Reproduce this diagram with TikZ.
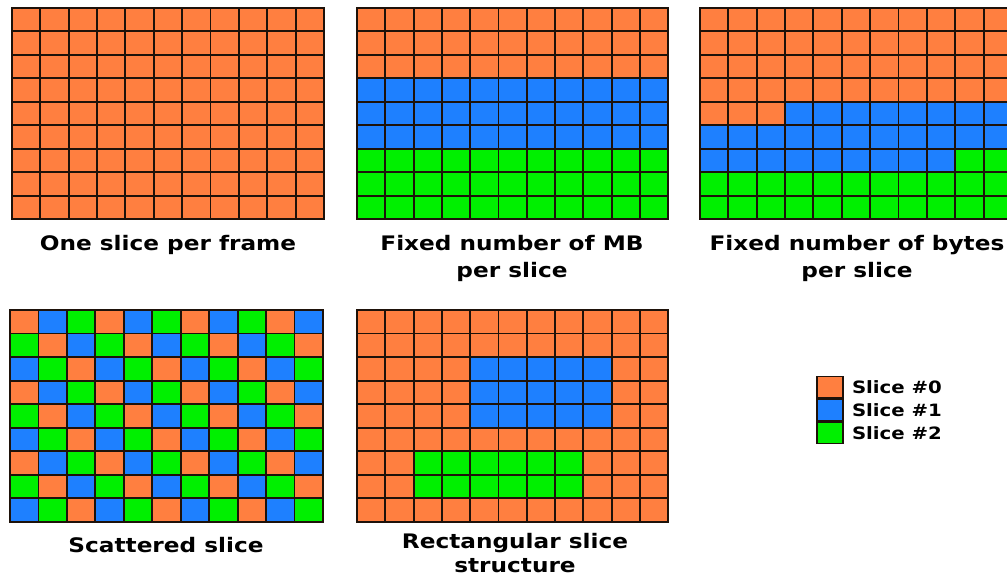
\documentclass[tikz,border=0pt]{standalone}
\usepackage{fontspec}
\usetikzlibrary{positioning}
\newfontfamily\capfont{DejaVu Sans}[FakeStretch=1.16]
\definecolor{slice0}{HTML}{FF7F40}
\definecolor{slice1}{HTML}{1E80FF}
\definecolor{slice2}{HTML}{00F000}
\definecolor{gridline}{HTML}{1E120A}

\begin{document}
\begin{tikzpicture}[
    x=1pt, y=-1pt,
    cellline/.style={draw=gridline, line width=1.9pt, line cap=rect},
    caption/.style={
        font=\capfont\bfseries\fontsize{20}{27}\selectfont,
        align=center,
        anchor=base,
        inner sep=0pt
    },
    legendbox/.style={
        draw=gridline,
        line width=1.6pt,
        minimum width=26pt,
        minimum height=21.3pt,
        inner sep=0pt
    },
    legendtext/.style={
        font=\capfont\bfseries\fontsize{17}{19}\selectfont,
        anchor=west,
        inner sep=1pt
    }
]
\clip (0,0) rectangle (1007,577);

% one slice per frame
\begin{scope}[shift={(12,8)}, x=28.36pt, y=-23.45pt]
  \fill[slice0] (0,0) rectangle (11,9);
  \foreach \i in {0,...,11} \draw[cellline] (\i,0) -- (\i,9);
  \foreach \j in {0,...,9} \draw[cellline] (0,\j) -- (11,\j);
\end{scope}

% fixed number of MB
\begin{scope}[shift={(357,8)}, x=28.3pt, y=-23.45pt]
  \fill[slice0] (0,0) rectangle (11,3);
  \fill[slice1] (0,3) rectangle (11,6);
  \fill[slice2] (0,6) rectangle (11,9);
  \foreach \i in {0,...,11} \draw[cellline] (\i,0) -- (\i,9);
  \foreach \j in {0,...,9} \draw[cellline] (0,\j) -- (11,\j);
\end{scope}

% fixed number of bytes
\begin{scope}[shift={(700,8)}, x=28.36pt, y=-23.45pt]
  \fill[slice0] (0,0) rectangle (11,9);
  \fill[slice1] (3,4) -- (11,4) -- (11,6) -- (9,6) -- (9,7) -- (0,7) -- (0,5) -- (3,5) -- cycle;
  \fill[slice2] (9,6) -- (11,6) -- (11,9) -- (0,9) -- (0,7) -- (9,7) -- cycle;
  \foreach \i in {0,...,11} \draw[cellline] (\i,0) -- (\i,9);
  \foreach \j in {0,...,9} \draw[cellline] (0,\j) -- (11,\j);
\end{scope}

% scattered slice
\begin{scope}[shift={(10,310)}, x=28.45pt, y=-23.55pt]
  \foreach \r in {0,...,8}
    \foreach \c in {0,...,10} {
      \pgfmathtruncatemacro\k{mod(\c-\r+9,3)}
      \fill[slice\k] (\c,\r) rectangle ++(1,1);
    }
  \foreach \i in {0,...,11} \draw[cellline] (\i,0) -- (\i,9);
  \foreach \j in {0,...,9} \draw[cellline] (0,\j) -- (11,\j);
\end{scope}

% rectangular slice structure
\begin{scope}[shift={(357,310)}, x=28.3pt, y=-23.55pt]
  \fill[slice0] (0,0) rectangle (11,9);
  \fill[slice1] (4,2) rectangle (9,5);
  \fill[slice2] (2,6) rectangle (8,8);
  \foreach \i in {0,...,11} \draw[cellline] (\i,0) -- (\i,9);
  \foreach \j in {0,...,9} \draw[cellline] (0,\j) -- (11,\j);
\end{scope}

% captions (base = last line)
\node[caption] (capone) at (168,251) {One slice per frame};
\node[caption] (capmb) at (512,278) {Fixed number of MB\\per slice};
\node[caption] (capbytes) at (857,278) {Fixed number of bytes\\per slice};
\node[caption] (capscat) at (166,552) {Scattered slice};
\node[caption, font=\capfont\bfseries\fontsize{20}{24}\selectfont] (caprect) at (515,572) {Rectangular slice\\structure};

% legend
\node[legendbox, fill=slice0] (key0) at (830,387) {};
\node[legendbox, fill=slice1, below=0pt of key0] (key1) {};
\node[legendbox, fill=slice2, below=0pt of key1] (key2) {};
\node[legendtext, right=7pt of key0] (lab0) {Slice \#0};
\node[legendtext, right=7pt of key1] (lab1) {Slice \#1};
\node[legendtext, right=7pt of key2] (lab2) {Slice \#2};

\end{tikzpicture}
\end{document}
